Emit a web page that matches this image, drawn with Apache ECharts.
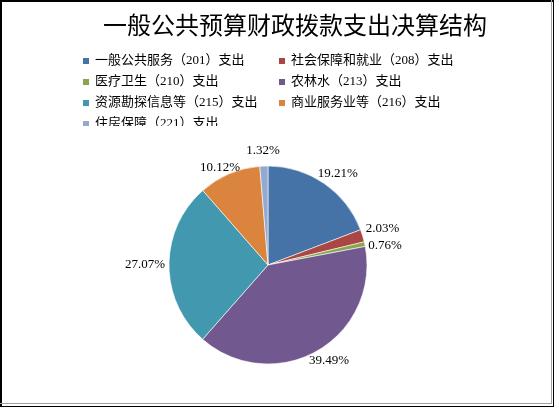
<!DOCTYPE html>
<html>
<head>
<meta charset="utf-8">
<title>一般公共预算财政拨款支出决算结构</title>
<script src="https://cdn.jsdelivr.net/npm/echarts@6.0.0/dist/echarts.min.js"></script>
<style>
  body { margin: 0; background: #fff; }
  #main { position: absolute; left: 0; top: 0; width: 554px; height: 407px; }
  /* 바깥 테두리 */
  #frame { position: absolute; left: 0; top: 0; width: 554px; height: 407px; box-sizing: border-box;
           border: 1px solid #000; border-left-width: 2px; border-top-width: 2px; pointer-events: none; }
  #frame2 { position: absolute; left: 0; top: 0; width: 552px; height: 404px; box-sizing: border-box;
            border-right: 1px solid #a0a0a0; border-bottom: 1px solid #a0a0a0; pointer-events: none; }
</style>
</head>
<body>
<div id="main"></div>
<div id="frame"></div>
<div id="frame2"></div>
<script type="text/javascript">
// 데이터
var categories = [
  '一般公共服务（201）支出',
  '社会保障和就业（208）支出',
  '医疗卫生（210）支出',
  '农林水（213）支出',
  '资源勘探信息等（215）支出',
  '商业服务业等（216）支出',
  '住房保障（221）支出'
];
var percents = [19.21, 2.03, 0.76, 39.49, 27.07, 10.12, 1.32];
var colors = ['#4572A7', '#AA4643', '#89A54E', '#71588F', '#4198AF', '#DB843D', '#93A9CF'];

var pieCenter = [268, 265];
var pieRadius = 99;
var labelFontFamily = '"Liberation Serif", serif';
var labelFontSize = 13;

var myChart = echarts.init(document.getElementById('main'));

var pieData = [];
var total = 0;
for (var i = 0; i < categories.length; i++) {
  pieData.push({ name: categories[i], value: percents[i], itemStyle: { color: colors[i] } });
  total += percents[i];
}

function labelText(v) { return v.toFixed(2) + '%'; }

// 엑셀 비슷하게 라벨 위치 미리 계산 (원 바깥, 겹치면 위아래로 벌림)
var labelPos = (function () {
  var ctx = document.createElement('canvas').getContext('2d');
  ctx.font = labelFontSize + 'px ' + labelFontFamily;
  var hh = 7.5, gap = 4;
  var out = [], before = 0;
  for (var k = 0; k < percents.length; k++) {
    var a = (before + percents[k] / 2) / total * Math.PI * 2;
    before += percents[k];
    var ux = Math.sin(a), uy = -Math.cos(a);
    var hw = ctx.measureText(labelText(percents[k])).width / 2;
    out.push({
      x: pieCenter[0] + (pieRadius + gap) * ux + hw * ux,
      y: pieCenter[1] + (pieRadius + gap) * uy + hh * uy,
      right: ux >= 0
    });
  }
  // 같은 쪽 이웃 라벨끼리 겹침 해소
  for (var m = 1; m < out.length; m++) {
    var p = out[m - 1], q = out[m];
    if (p.right !== q.right) continue;
    var dy = Math.abs(q.y - p.y), need = hh * 2 + 2;
    if (dy < need) {
      var s = (need - dy) / 2, dir = q.y >= p.y ? 1 : -1;
      p.y -= s * dir;
      q.y += s * dir;
    }
  }
  return out;
})();

var legendFont = {
  fontFamily: '"Liberation Serif", "Noto Sans CJK SC", serif',
  fontSize: 13,
  color: '#000',
  lineHeight: 14
};

var option = {
  animation: false,
  title: {
    text: '一般公共预算财政拨款支出决算结构',
    left: 98,
    top: 8,
    textStyle: {
      fontFamily: '"Noto Sans CJK SC", sans-serif',
      fontSize: 24,
      fontWeight: 'normal',
      color: '#000'
    }
  },
  legend: [
    {
      // 왼쪽 열
      orient: 'vertical',
      left: 81,
      top: 54,
      padding: 0,
      itemWidth: 8,
      itemHeight: 8,
      itemGap: 7,
      icon: 'rect',
      data: [categories[0], categories[2], categories[4], categories[6]],
      textStyle: legendFont
    },
    {
      // 오른쪽 열
      orient: 'vertical',
      left: 277,
      top: 54,
      padding: 0,
      itemWidth: 8,
      itemHeight: 8,
      itemGap: 7,
      icon: 'rect',
      data: [categories[1], categories[3], categories[5]],
      textStyle: legendFont
    }
  ],
  graphic: [
    {
      // 범례 마지막 줄이 잘린 것처럼 보이게
      type: 'rect',
      z: 100,
      shape: { x: 70, y: 126, width: 220, height: 16 },
      style: { fill: '#fff' }
    }
  ],
  series: [
    {
      name: '支出',
      type: 'pie',
      center: pieCenter,
      radius: pieRadius,
      startAngle: 90,
      clockwise: true,
      itemStyle: { borderColor: '#fff', borderWidth: 0.6 },
      label: {
        show: true,
        position: 'outside',
        formatter: function (p) { return labelText(p.value); },
        fontFamily: labelFontFamily,
        fontSize: labelFontSize,
        color: '#000'
      },
      labelLine: { show: false },
      labelLayout: function (params) {
        var lp = labelPos[params.dataIndex];
        return { x: lp.x, y: lp.y, align: 'center', verticalAlign: 'middle' };
      },
      emphasis: { scale: false },
      data: pieData
    }
  ]
};

myChart.setOption(option);
</script>
</body>
</html>
